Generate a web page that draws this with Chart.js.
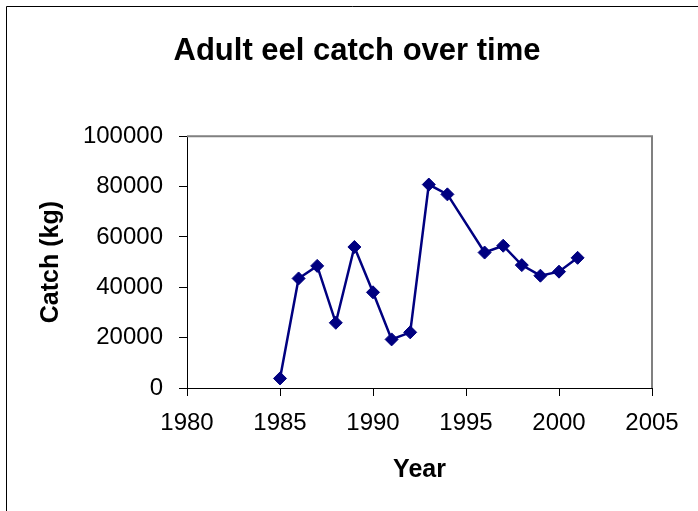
<!DOCTYPE html>
<html>
<head>
<meta charset="utf-8">
<script src="https://cdn.jsdelivr.net/npm/chart.js@4.4.0/dist/chart.umd.min.js"></script>
<style>
  html, body { margin: 0; padding: 0; background: #ffffff; }
  #wrap { width: 698px; height: 511px; position: relative; }
</style>
</head>
<body>
<div id="wrap"><canvas id="c" width="698" height="511"></canvas></div>
<script>
// ---- data ----
const years = [1985, 1986, 1987, 1988, 1989, 1990, 1991, 1992, 1993, 1994, 1996, 1997, 1998, 1999, 2000, 2001];
const catchKg = [3800, 43500, 48500, 25900, 56000, 38000, 19300, 22100, 80800, 76900, 53800, 56500, 48800, 44600, 46200, 51700];
const xTicks = [1980, 1985, 1990, 1995, 2000, 2005];
const yTicks = [0, 20000, 40000, 60000, 80000, 100000];
const chartTitle = 'Adult eel catch over time';
const xTitle = 'Year';
const yTitle = 'Catch (kg)';

const FONT = 'Liberation Sans, Arial, Helvetica, sans-serif';
const points = years.map((y, i) => ({ x: y, y: catchKg[i] }));

const framePlugin = {
  id: 'frame',
  beforeDraw(chart) {
    const ctx = chart.ctx;
    ctx.save();
    ctx.fillStyle = '#ffffff';
    ctx.fillRect(0, 0, chart.width, chart.height);
    ctx.strokeStyle = '#000000';
    ctx.lineWidth = 1;
    ctx.beginPath();
    ctx.moveTo(6.5, chart.height);
    ctx.lineTo(6.5, 6.5);
    ctx.lineTo(chart.width, 6.5);
    ctx.stroke();
    ctx.restore();
  },
  beforeDatasetsDraw(chart) {
    const a = chart.chartArea;
    const ctx = chart.ctx;
    ctx.save();
    ctx.strokeStyle = '#808080';
    ctx.lineWidth = 2;
    ctx.beginPath();
    ctx.moveTo(a.left, a.top);
    ctx.lineTo(a.right, a.top);
    ctx.lineTo(a.right, a.bottom);
    ctx.stroke();
    ctx.restore();
  }
};

new Chart(document.getElementById('c'), {
  type: 'scatter',
  data: {
    datasets: [{
      label: 'Catch',
      data: points,
      showLine: true,
      borderColor: '#000080',
      backgroundColor: '#000080',
      borderWidth: 2.5,
      pointStyle: 'rectRot',
      pointRadius: 6.5,
      pointBorderWidth: 1,
      pointBorderColor: '#000080',
      pointBackgroundColor: '#000080',
      tension: 0
    }]
  },
  options: {
    responsive: false,
    animation: false,
    devicePixelRatio: 1,
    layout: { padding: { left: 16, right: 0, top: 0, bottom: 0 } },
    plugins: {
      legend: { display: false },
      tooltip: { enabled: false },
      title: {
        display: true,
        text: chartTitle,
        color: '#000000',
        font: { family: FONT, size: 31, weight: 'bold', lineHeight: 1.2 },
        padding: { top: 33, bottom: 66 }
      }
    },
    scales: {
      x: {
        type: 'linear',
        position: 'bottom',
        min: xTicks[0],
        max: xTicks[xTicks.length - 1],
        afterBuildTicks(s) { s.ticks = xTicks.map(v => ({ value: v })); },
        afterFit(s) { s.height = 123; },
        ticks: {
          color: '#000000',
          font: { family: FONT, size: 24, lineHeight: 1.2 },
          padding: 13,
          maxRotation: 0,
          autoSkip: false,
          callback: v => String(v)
        },
        grid: { drawOnChartArea: false, drawTicks: true, tickLength: 8, color: '#000000', lineWidth: 1 },
        border: { display: true, color: '#000000', width: 1 },
        title: {
          display: true,
          text: xTitle,
          color: '#000000',
          font: { family: FONT, size: 25, weight: 'bold', lineHeight: 1.2 },
          padding: { top: 0, bottom: 26 }
        }
      },
      y: {
        type: 'linear',
        position: 'left',
        min: yTicks[0],
        max: yTicks[yTicks.length - 1],
        afterBuildTicks(s) { s.ticks = yTicks.map(v => ({ value: v })); },
        afterFit(s) { s.width = 171; },
        ticks: {
          color: '#000000',
          font: { family: FONT, size: 24, lineHeight: 1.2 },
          padding: 16,
          autoSkip: false,
          callback: v => String(v)
        },
        grid: { drawOnChartArea: false, drawTicks: true, tickLength: 8, color: '#000000', lineWidth: 1 },
        border: { display: true, color: '#000000', width: 1 },
        title: {
          display: true,
          text: yTitle,
          color: '#000000',
          font: { family: FONT, size: 25, weight: 'bold', lineHeight: 1.2 },
          padding: { top: 20, bottom: 0 }
        }
      },
      yRight: {
        type: 'linear',
        position: 'right',
        display: true,
        min: 0,
        max: 1,
        afterFit(s) { s.width = 46; },
        ticks: { display: false },
        grid: { display: false, drawTicks: false },
        border: { display: false }
      }
    }
  },
  plugins: [framePlugin]
});
</script>
</body>
</html>
